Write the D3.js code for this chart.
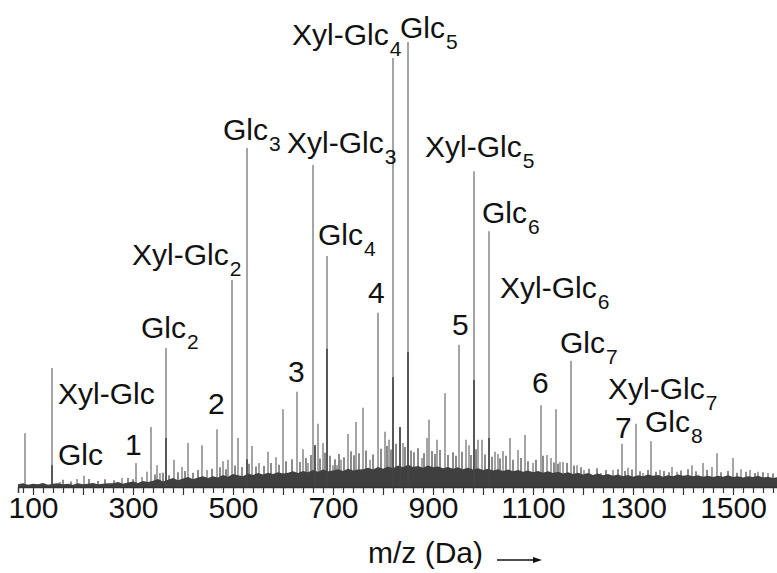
<!DOCTYPE html>
<html><head><meta charset="utf-8">
<script src="https://cdn.jsdelivr.net/npm/d3@7"></script>
<style>html,body{margin:0;padding:0;background:#fff;overflow:hidden}svg{display:block}</style>
</head><body><svg id="c" width="777" height="573"></svg>
<script>
// ---- data (m/z in Da, relative intensity in %) ----
const peakMz  = [84,138,154,188,202,278,306,318,328,336,348,354,366,382,398,410,438,448,468,480,490,498,510,528,538,552,570,586,600,628,640,650,660,664,670,680,688,700,708,716,730,746,760,774,790,804,812,820,834,840,850,878,888,892,908,924,952,966,972,982,990,998,1012,1024,1030,1040,1054,1070,1084,1100,1116,1128,1136,1146,1154,1160,1176,1188,1202,1236,1260,1278,1290,1306,1320,1336,1354,1378,1388,1418,1440,1458,1468,1500,1516,1534,1550,1570];
const peakInt = [11.9,26.6,0.9,1.6,2.3,1.8,5.2,2.0,3.2,13.3,4.7,2.9,31.1,5.9,4.3,9.7,9.2,3.6,12.8,5.6,5.9,46.4,10.8,76.1,9.0,5.2,7.7,6.5,17.3,21.2,8.3,5.2,72.3,9.2,14.0,9.7,51.8,4.7,4.7,5.9,11.7,14.4,17.6,5.9,39.0,12.2,10.4,96.4,13.3,9.7,100,6.3,10.8,14.9,10.4,20.9,31.8,10.4,9.2,70.9,10.4,10.4,57.4,7.7,7.2,7.9,10.8,8.1,11.5,5.2,18.2,7.0,6.3,17.3,5.4,5.4,28.2,4.7,3.6,2.9,3.6,9.5,4.1,14.0,2.9,10.1,3.6,4.3,3.2,4.7,5.2,4.3,7.4,6.3,3.8,3.6,3.2,2.9];
// darker lower parts of overlapping peaks
const darkMz  = [138,366,528,664,688,820,834,850,982,1012];
const darkInt = [4.7,10.8,6.0,9.2,30.9,24.5,13.3,30.2,23.9,10.8];
// small unresolved spikes standing on the background
const spikeMz  = [160,176,212,230,244,262,290,300,344,360,372,390,404,420,430,458,474,486,504,518,532,546,562,576,592,606,618,634,646,656,674,684,694,704,712,722,736,742,752,766,780,796,808,816,826,844,856,862,870,882,898,904,914,930,940,946,958,976,986,1004,1018,1034,1046,1060,1076,1090,1106,1120,1142,1150,1168,1182,1196,1212,1228,1246,1270,1284,1298,1314,1330,1346,1362,1372,1396,1410,1426,1448,1476,1490,1508,1526,1544,1560,1580,1596];
const spikeInt = [1.4,1.0,1.6,1.1,1.5,1.3,1.8,1.5,2.6,3.0,2.4,3.1,3.4,3.0,3.6,3.9,4.2,3.8,4.6,4.3,5.0,4.4,4.5,5.2,4.8,5.6,6.0,5.4,6.3,7.0,6.2,7.5,6.8,6.0,7.2,6.5,7.8,6.9,7.4,8.0,7.1,8.4,9.0,8.2,9.5,8.8,8.0,7.6,8.5,7.4,7.9,7.2,8.1,7.0,7.6,6.8,7.7,7.0,8.3,7.1,6.6,6.2,6.8,5.9,6.3,5.6,5.9,6.8,5.3,5.0,5.2,4.6,4.2,3.9,4.0,3.6,3.8,3.4,3.7,3.3,3.6,3.2,3.4,3.1,3.5,3.8,3.3,3.6,3.1,3.4,3.0,3.2,2.9,3.1,2.8,3.0];
// dense unresolved background, sampled every 10 Da from 70 to 1600
const floorInt = [0.4,0.6,0.3,0.5,0.4,0.7,0.3,0.5,0.6,0.4,0.5,0.3,0.6,0.4,0.5,0.7,0.4,0.5,0.6,
  0.6,0.9,0.5,0.8,1.0,0.7,1.1,0.9,
  1.2,1.6,1.0,1.4,1.8,1.3,1.7,2.0,1.5,1.9,2.2,1.8,
  2.2,1.9,2.5,2.1,2.7,2.4,2.2,2.8,2.5,2.9,2.6,3.0,2.7,3.1,2.8,
  3.0,3.3,2.9,3.4,3.1,3.6,3.2,3.7,3.3,3.5,3.8,3.4,3.9,3.5,3.7,
  3.8,4.1,3.7,4.3,3.9,4.4,4.0,4.6,4.2,4.8,4.3,4.5,4.1,4.6,4.2,4.4,4.0,4.3,3.9,4.2,3.8,4.1,3.7,4.0,3.6,
  3.9,3.5,3.8,3.4,3.7,3.3,3.6,3.2,3.5,3.1,3.4,3.0,3.3,2.9,3.2,
  2.8,3.1,2.7,3.0,2.6,2.9,2.5,2.8,2.4,2.7,
  2.3,2.6,2.2,2.5,2.1,2.4,2.2,2.6,2.3,2.5,2.1,2.4,2.2,2.6,2.3,2.5,2.2,2.4,2.1,2.3,2.0,2.3,2.1,2.4,2.0,2.2,1.9,2.2,2.0,2.3,1.9,2.1,1.8,2.0,1.9];
const floorMz = d3.range(70, 1601, 10);
const tickLabels = [100,300,500,700,900,1100,1300,1500];
// annotations: main text, subscript, anchor (m/z, intensity) of text baseline-left
const labText = ["Glc","Xyl-Glc","1","Glc","2","Xyl-Glc","Glc","3","Xyl-Glc","Glc","4","Xyl-Glc","Glc","5","Xyl-Glc","Glc","Xyl-Glc","6","Glc","Xyl-Glc","7","Glc"];
const labSub  = ["","","","2","","2","3","","3","4","","4","5","","5","6","6","","7","7","","8"];
const labMz   = [150,150,284,316,450,298,480,610,608,670,770,618,834,938,884,998,1034,1098,1154,1250,1264,1324];
const labInt  = [4.7,18.5,7.0,33.3,16.2,49.8,77.9,23.4,75.0,54.3,41.2,99.3,100.9,34.0,74.1,59.2,42.3,20.9,30.0,19.6,10.8,12.2];

// ---- drawing ----
const svg = d3.select("#c");
const FONT = "'Liberation Sans', Arial, Helvetica, sans-serif";
const x = d3.scaleLinear().domain([70, 1600]).range([18, 783]);
const y = d3.scaleLinear().domain([0, 100]).range([486, 42]);

function sticks(mz, val, color, w) {
  svg.append("g").selectAll("line").data(mz.map((m,i)=>({m, v:val[i]}))).join("line")
    .attr("x1", d=>x(d.m)).attr("x2", d=>x(d.m))
    .attr("y1", y(0)).attr("y2", d=>y(d.v))
    .attr("stroke", color).attr("stroke-width", w);
}

sticks(peakMz, peakInt, "#8f8f8f", 1.6);
sticks(spikeMz, spikeInt, "#5a5a5a", 1.4);

const floor = floorMz.map((m,i)=>({m, v:floorInt[i]}));
svg.append("path").datum(floor)
  .attr("d", d3.area().x(d=>x(d.m)).y0(y(0)+1).y1(d=>y(d.v)))
  .attr("fill", "#3f3f3f");

sticks(darkMz, darkInt, "#444", 1.6);

const tickVals = d3.range(80, 1601, 20);
const ax = svg.append("g").attr("transform", `translate(0,${y(0)+1})`)
  .call(d3.axisBottom(x).tickValues(tickVals).tickSizeOuter(0).tickSize(6)
    .tickFormat(d => tickLabels.includes(d) ? d : ""));
ax.select(".domain").attr("stroke", "#333").attr("stroke-width", 1.5);
ax.selectAll(".tick line").attr("stroke", "#333").attr("stroke-width", 1.2)
  .attr("y2", d => d % 100 === 0 ? 8 : 6);
ax.selectAll(".tick text").attr("font-family", FONT).attr("font-size", 30)
  .attr("fill", "#111").attr("y", 10).attr("dy", "0.71em");

const labs = labText.map((t,i)=>({t, s:labSub[i], m:labMz[i], v:labInt[i]}));
const tg = svg.append("g").attr("font-family", FONT).attr("fill", "#111");
labs.forEach(d => {
  const t = tg.append("text").attr("x", x(d.m)).attr("y", y(d.v)).attr("font-size", 30);
  t.append("tspan").text(d.t);
  if (d.s) t.append("tspan").attr("font-size", 21).attr("dx", 1).attr("dy", 11).text(d.s);
});

svg.append("text").attr("x", 368).attr("y", 563).attr("font-family", FONT)
  .attr("font-size", 30).attr("fill", "#111").text("m/z (Da)");
svg.append("line").attr("x1", 497).attr("x2", 536).attr("y1", 560).attr("y2", 560)
  .attr("stroke", "#111").attr("stroke-width", 1.3);
svg.append("path").attr("d", "M533,557 L542,560 L533,563 Z").attr("fill", "#111");
</script></body></html>
